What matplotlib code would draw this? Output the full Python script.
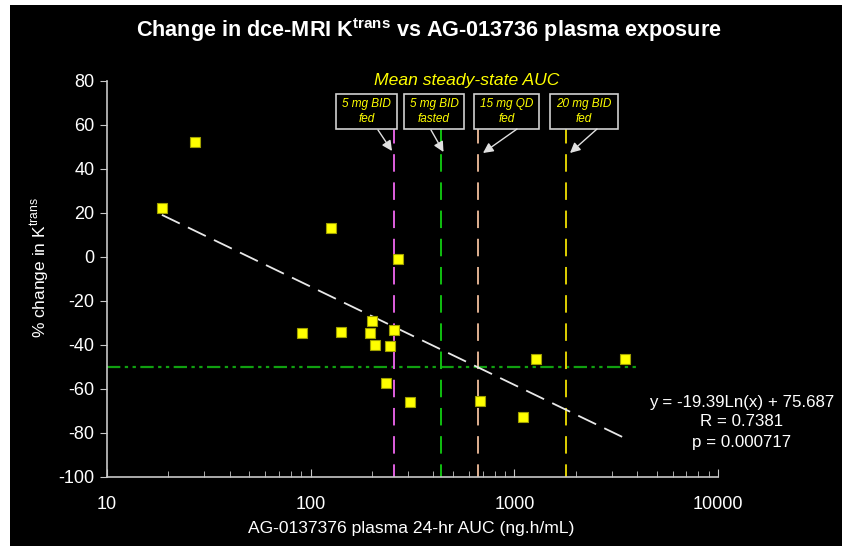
import numpy as np
import matplotlib
matplotlib.use("Agg")
import matplotlib.pyplot as plt
from matplotlib.patches import Rectangle, FancyArrowPatch

# Data
auc = [18.6, 27.1, 126, 268, 201, 90.6, 141, 195, 258, 208, 246, 235, 308,
       1274, 3475, 678, 1099]
kchange = [22, 52, 13, -1, -29, -34.5, -34, -34.5, -33.5, -40, -40.5, -57.5, -66,
           -46.5, -46.5, -65.5, -73]
fit_a, fit_b = -19.39, 75.687
dose_labels = ["5 mg BID\nfed", "5 mg BID\nfasted", "15 mg QD\nfed", "20 mg BID\nfed"]
dose_auc = [257, 438, 660, 1785]
dose_colors = ["#e060e0", "#10c010", "#e0b090", "#e0d000"]
threshold = -50
xticks = [10, 100, 1000, 10000]
yticks = list(range(-100, 81, 20))

W, H = 842, 546
fig = plt.figure(figsize=(W / 100, H / 100), dpi=100)
fig.patch.set_facecolor("white")
fig.add_artist(Rectangle((10 / W, 0), 1 - 10 / W, 1 - 5 / H, transform=fig.transFigure,
                         facecolor="black", edgecolor="none", zorder=0))

left, right, bottom, top = 107, 718, 476.7, 80.7
ax = fig.add_axes([left / W, 1 - bottom / H, (right - left) / W, (bottom - top) / H])
ax.set_facecolor("black")
ax.set_xscale("log")
ax.set_xlim(10, 10000)
ax.set_ylim(-100, 80)

for s in ["top", "right"]:
    ax.spines[s].set_visible(False)
for s in ["left", "bottom"]:
    ax.spines[s].set_color("#c8c8c8")
    ax.spines[s].set_linewidth(1.2)

ax.set_yticks(yticks)
ax.set_yticklabels([str(v) for v in yticks])
ax.set_xticks(xticks)
ax.set_xticklabels([str(v) for v in xticks])
ax.tick_params(axis="y", direction="out", length=5, color="#c8c8c8", labelcolor="white",
               labelsize=13, pad=4)
ax.tick_params(axis="x", which="major", direction="in", length=6, color="#c8c8c8",
               labelcolor="white", labelsize=13, pad=14)
ax.tick_params(axis="x", which="minor", direction="in", length=4, color="#c8c8c8")
for lab in ax.get_xticklabels() + ax.get_yticklabels():
    lab.set_family("Liberation Sans")

# threshold line
ax.plot([10, 4000], [threshold, threshold], color="#10a010", lw=1.6,
        dashes=(6, 2, 1.5, 2, 1.5, 2), zorder=2)

# dose lines (drawn from the top down so a dash starts at the box)
line_top = 59.5
for xv, c in zip(dose_auc, dose_colors):
    ax.plot([xv, xv], [line_top, -100], color=c, lw=1.4, dashes=(9, 5.5), zorder=2,
            clip_on=False)

# trend line
xs = np.logspace(np.log10(min(auc)), np.log10(max(auc)), 100)
ax.plot(xs, fit_a * np.log(xs) + fit_b, color="#e8e8e8", lw=1.3, dashes=(11, 5), zorder=3)

# points
ax.plot(auc, kchange, ls="none", marker="s", markersize=7.5, markerfacecolor="#ffff00",
        markeredgecolor="#a0a000", markeredgewidth=0.8, zorder=4)

# boxes
box_px = [(336, 397), (404, 464), (474, 539), (550, 618)]
box_y0, box_y1 = 94.3, 129.3
for (x0, x1), lab in zip(box_px, dose_labels):
    fig.add_artist(Rectangle((x0 / W, 1 - box_y1 / H), (x1 - x0) / W, (box_y1 - box_y0) / H,
                             transform=fig.transFigure, facecolor="black",
                             edgecolor="#d0d0d0", lw=1.2, zorder=5))
    fig.text((x0 + x1) / 2 / W, 1 - (box_y0 + box_y1) / 2 / H, lab, color="#ffff00",
             fontsize=8.5, style="italic", ha="center", va="center",
             family="Liberation Sans", linespacing=1.35, zorder=6)

arrows = [((378, 130), (392, 151)), ((431, 130), (443.5, 152)),
          ((517, 129), (483, 153)), ((597, 129), (570, 153))]
for (sx, sy), (ex, ey) in arrows:
    fig.add_artist(FancyArrowPatch(
        (sx / W, 1 - sy / H), (ex / W, 1 - ey / H), transform=fig.transFigure,
        arrowstyle="-|>,head_length=6,head_width=3", color="#e0e0e0", lw=1.0,
        shrinkA=0, shrinkB=0, zorder=6))

fig.text(467 / W, 1 - 80 / H, "Mean steady-state AUC", color="#ffff00", fontsize=12.6,
         style="italic", ha="center", va="center", family="Liberation Sans")

fig.text(429 / W, 1 - 30 / H, "Change in dce-MRI K$^{\\mathregular{trans}}$ vs AG-013736 plasma exposure",
         color="white", fontsize=15.6, fontweight="bold", ha="center", va="center",
         family="Liberation Sans")

fig.text(40 / W, 1 - 268 / H, "% change in K$^{\\mathregular{trans}}$", color="white",
         fontsize=12.5, rotation=90, ha="center", va="center", family="Liberation Sans")
fig.text(411 / W, 1 - 529 / H, "AG-0137376 plasma 24-hr AUC (ng.h/mL)", color="white",
         fontsize=12.6, ha="center", va="center", family="Liberation Sans")

fig.text(742 / W, 1 - 402 / H, "y = -19.39Ln(x) + 75.687", color="white", fontsize=12.2,
         ha="center", va="center", family="Liberation Sans")
fig.text(742 / W, 1 - 422 / H, "R = 0.7381", color="white", fontsize=12.2,
         ha="center", va="center", family="Liberation Sans")
fig.text(742 / W, 1 - 443 / H, "p = 0.000717", color="white", fontsize=12.2,
         ha="center", va="center", family="Liberation Sans")

fig.savefig("out.png", dpi=100, facecolor=fig.get_facecolor())
